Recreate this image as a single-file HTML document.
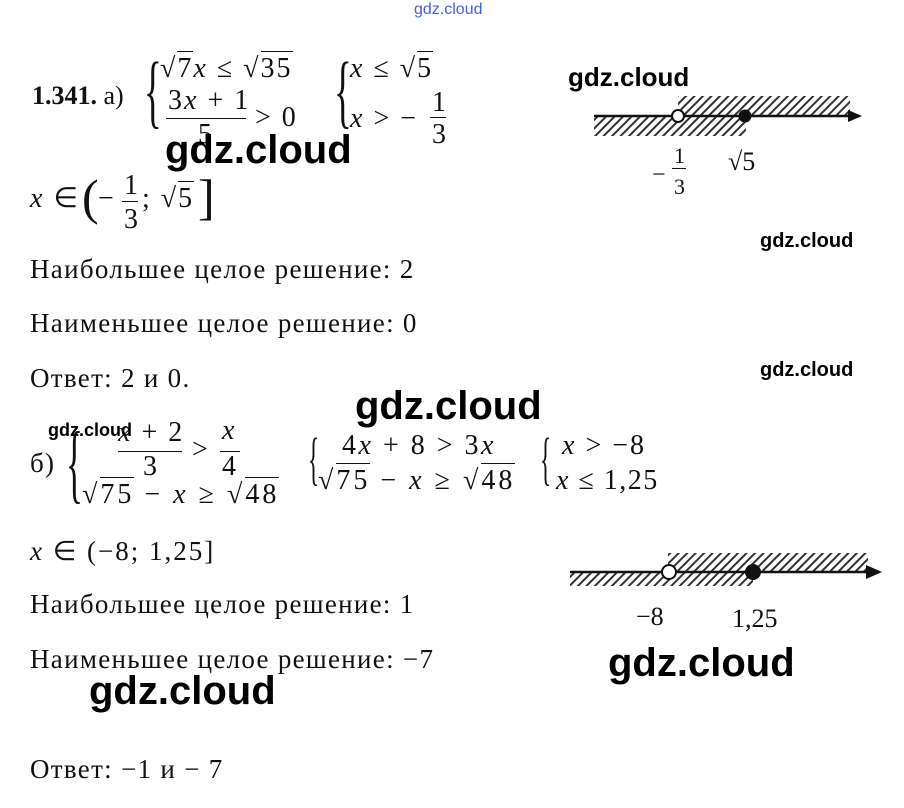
<!DOCTYPE html>
<html><head><meta charset="utf-8"><style>
body{margin:0;width:904px;height:808px;background:#fff;position:relative;overflow:hidden;font-family:"Liberation Serif",serif;color:#111}
.a{position:absolute;line-height:1;white-space:nowrap}
.t{font-size:27px;letter-spacing:1.3px}
.m{font-size:28px;letter-spacing:2px}
i{font-style:italic}
.w{font-family:"Liberation Sans",sans-serif;font-weight:bold;color:#000;letter-spacing:0}
.o{border-top:1.5px solid #111;padding-top:1px}
.fr{position:absolute;border-top:1.5px solid #111}
</style></head><body>
<div class="a" style="left:414px;top:2px;font-family:'Liberation Sans',sans-serif;font-size:16px;color:#4560d8">gdz.cloud</div>

<div class="a" style="left:32px;top:83px;font-size:26px"><b>1.341.</b> а)</div>
<div class="a" style="left:144px;top:50px;font-size:82px;transform:scaleX(0.45);transform-origin:left">{</div>
<div class="a m" style="left:160px;top:55px">√<span class="o">7</span><i>x</i> ≤ √<span class="o">35</span></div>
<div class="a m" style="left:168px;top:87px">3<i>x</i> + 1</div>
<div class="fr" style="left:166px;top:118px;width:80px"></div>
<div class="a m" style="left:198px;top:121px">5</div>
<div class="a m" style="left:255px;top:104px">&gt; 0</div>
<div class="a" style="left:334px;top:50px;font-size:82px;transform:scaleX(0.45);transform-origin:left">{</div>
<div class="a m" style="left:350px;top:55px"><i>x</i> ≤ √<span class="o">5</span></div>
<div class="a m" style="left:350px;top:105px"><i>x</i> &gt; −</div>
<div class="a m" style="left:432px;top:89px">1</div>
<div class="fr" style="left:430px;top:117px;width:16px"></div>
<div class="a m" style="left:432px;top:121px">3</div>

<div class="a w" style="left:165px;top:130px;font-size:40px">gdz.cloud</div>

<div class="a m" style="left:30px;top:185px"><i>x</i> ∈</div>
<div class="a" style="left:82px;top:172px;font-size:50px">(</div>
<div class="a m" style="left:98px;top:185px">−</div>
<div class="a m" style="left:124px;top:172px">1</div>
<div class="fr" style="left:122px;top:201px;width:16px"></div>
<div class="a m" style="left:124px;top:206px">3</div>
<div class="a m" style="left:142px;top:185px">; √<span class="o">5</span></div>
<div class="a" style="left:198px;top:172px;font-size:50px">]</div>

<div class="a t" style="left:30px;top:256px">Наибольшее целое решение: 2</div>
<div class="a t" style="left:30px;top:310px">Наименьшее целое решение: 0</div>
<div class="a t" style="left:30px;top:365px">Ответ: 2 и 0.</div>

<div class="a w" style="left:568px;top:64px;font-size:26px">gdz.cloud</div>
<div class="a w" style="left:760px;top:231px;font-size:20px">gdz.cloud</div>
<div class="a w" style="left:760px;top:360px;font-size:20px">gdz.cloud</div>
<div class="a w" style="left:355px;top:386px;font-size:40px">gdz.cloud</div>

<svg class="a" style="left:0;top:0" width="904" height="808">
<defs>
<pattern id="h" width="6" height="6" patternUnits="userSpaceOnUse" patternTransform="rotate(45)">
<rect width="2" height="6" fill="#333"/></pattern></defs>
<rect x="678" y="96" width="172" height="20" fill="url(#h)"/>
<rect x="594" y="117" width="152" height="19" fill="url(#h)"/>
<line x1="594" y1="116" x2="850" y2="116" stroke="#111" stroke-width="2.5"/>
<polygon points="848,110 862,116 848,122" fill="#111"/>
<circle cx="678" cy="116" r="6" fill="#fff" stroke="#111" stroke-width="2"/>
<circle cx="745" cy="116" r="6.5" fill="#111"/>
<rect x="668" y="553" width="200" height="18" fill="url(#h)"/>
<rect x="570" y="573" width="183" height="13" fill="url(#h)"/>
<line x1="570" y1="572" x2="870" y2="572" stroke="#111" stroke-width="2.5"/>
<polygon points="866,565 882,572 866,579" fill="#111"/>
<circle cx="669" cy="572" r="7" fill="#fff" stroke="#111" stroke-width="2"/>
<circle cx="753" cy="572" r="8" fill="#111"/>
</svg>
<div class="a" style="left:652px;top:163px;font-size:24px">−</div>
<div class="a" style="left:674px;top:145px;font-size:22px">1</div>
<div class="fr" style="left:672px;top:168px;width:14px"></div>
<div class="a" style="left:674px;top:176px;font-size:22px">3</div>
<div class="a" style="left:728px;top:149px;font-size:26px">√5</div>

<div class="a t" style="left:30px;top:450px">б)</div>
<div class="a" style="left:66px;top:420px;font-size:88px;transform:scaleX(0.4);transform-origin:left">{</div>
<div class="a m" style="left:118px;top:419px"><i>x</i> + 2</div>
<div class="fr" style="left:118px;top:451px;width:64px"></div>
<div class="a m" style="left:143px;top:453px">3</div>
<div class="a m" style="left:192px;top:436px">&gt;</div>
<div class="a m" style="left:222px;top:417px"><i>x</i></div>
<div class="fr" style="left:220px;top:451px;width:20px"></div>
<div class="a m" style="left:222px;top:453px">4</div>
<div class="a m" style="left:82px;top:481px;letter-spacing:3px">√<span class="o">75</span> − <i>x</i> ≥ √<span class="o">48</span></div>
<div class="a w" style="left:48px;top:421px;font-size:18px">gdz.cloud</div>

<div class="a" style="left:308px;top:430px;font-size:58px;transform:scaleX(0.4);transform-origin:left">{</div>
<div class="a m" style="left:342px;top:432px;letter-spacing:2.5px">4<i>x</i> + 8 &gt; 3<i>x</i></div>
<div class="a m" style="left:318px;top:467px;letter-spacing:3px">√<span class="o">75</span> − <i>x</i> ≥ √<span class="o">48</span></div>
<div class="a" style="left:540px;top:430px;font-size:58px;transform:scaleX(0.4);transform-origin:left">{</div>
<div class="a m" style="left:562px;top:432px;letter-spacing:2px"><i>x</i> &gt; −8</div>
<div class="a m" style="left:556px;top:467px;letter-spacing:1.5px"><i>x</i> ≤ 1,25</div>

<div class="a t" style="left:30px;top:538px;letter-spacing:2px"><i>x</i> ∈ (−8; 1,25]</div>
<div class="a t" style="left:30px;top:591px">Наибольшее целое решение: 1</div>
<div class="a t" style="left:30px;top:646px">Наименьшее целое решение: −7</div>
<div class="a t" style="left:30px;top:756px">Ответ: −1 и − 7</div>

<div class="a" style="left:636px;top:604px;font-size:26px">−8</div>
<div class="a" style="left:732px;top:606px;font-size:26px">1,25</div>

<div class="a w" style="left:608px;top:643px;font-size:40px">gdz.cloud</div>
<div class="a w" style="left:89px;top:671px;font-size:40px">gdz.cloud</div>
</body></html>
